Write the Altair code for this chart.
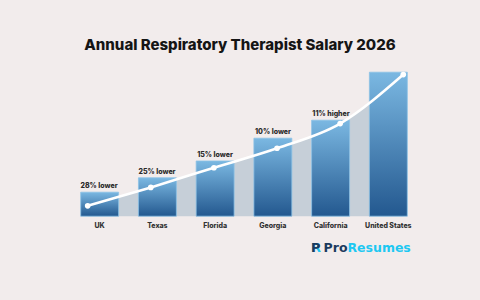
import altair as alt
import pandas as pd

# Regions, bar heights (grid units), curve levels and comparison labels
regions = ["UK", "Texas", "Florida", "Georgia", "California", "United States"]
bar_height = [1.0, 1.6, 2.3, 3.25, 4.0, 6.0]
curve_level = [0.43, 1.2, 2.02, 2.83, 3.86, 5.9]
gap_labels = ["28% lower", "25% lower", "15% lower", "10% lower", "11% higher", ""]
curve_index = [0, 1, 2, 3, 4, 5]

df = pd.DataFrame({
    "region": regions,
    "height": bar_height,
    "curve": curve_level,
    "label": gap_labels,
    "idx": curve_index,
})

FONT = "Inter"
LOGO_FONT = "DejaVu Sans"
BG = "#f2ecec"
NAVY = "#1b3a5e"
CYAN = "#1ec8f2"

y_scale = alt.Scale(domain=[0, 6.8], nice=False)
band = alt.Scale(domain=regions, paddingInner=0.343, paddingOuter=0.185)
curve_x = alt.Scale(domain=[-0.28, 5.233], nice=False, zero=False)

y_axis = alt.Axis(values=[0, 1, 2, 3, 4, 5, 6], labels=False, ticks=False, title=None,
                  domain=True, domainColor="#ddd6d6", domainWidth=1,
                  grid=True, gridColor="#e2dbdb", gridWidth=1)

base = alt.Chart(df)

# shaded band under the trend curve
area = base.mark_area(interpolate="monotone", color="#c6cfd8").encode(
    x=alt.X("idx:Q", scale=curve_x, axis=None),
    y=alt.Y("curve:Q", scale=y_scale, axis=y_axis),
)

bars = base.mark_bar(
    color=alt.Gradient(
        gradient="linear", x1=0, x2=0, y1=0, y2=1,
        stops=[alt.GradientStop(color="#7bb8e2", offset=0),
               alt.GradientStop(color="#23588f", offset=1)],
    ),
    stroke="#8cc1e6", strokeWidth=0.8,
).encode(
    x=alt.X("region:N", scale=band, sort=regions,
            axis=alt.Axis(title=None, ticks=False, domain=False, labelAngle=0,
                          labelFont=FONT, labelFontSize=7, labelFontWeight=800,
                          labelColor="#333333", labelPadding=5)),
    y=alt.Y("height:Q", scale=y_scale, axis=None),
)

line = base.mark_line(interpolate="monotone", color="white", strokeWidth=2.6).encode(
    x=alt.X("idx:Q", scale=curve_x, axis=None),
    y=alt.Y("curve:Q", scale=y_scale, axis=None),
)

points = base.mark_circle(color="white", size=32, opacity=1).encode(
    x=alt.X("idx:Q", scale=curve_x, axis=None),
    y=alt.Y("curve:Q", scale=y_scale, axis=None),
)

labels = base.mark_text(font=FONT, fontSize=7, fontWeight=800, color="#2a2a2a",
                        baseline="bottom", dy=-3).encode(
    x=alt.X("region:N", scale=band, sort=regions, axis=None),
    y=alt.Y("height:Q", scale=y_scale, axis=None),
    text="label:N",
)

# brand mark below the plot
logo_df = pd.DataFrame({"k": [0]})
LOGO_Y = 195.5


def logo_text(txt, color, size, x, align):
    return alt.Chart(logo_df).mark_text(
        text=txt, font=LOGO_FONT, fontSize=size, fontWeight="bold", color=color,
        align=align, baseline="middle",
    ).encode(x=alt.value(x), y=alt.value(LOGO_Y))


logo_r = logo_text("R", CYAN, 13, 241, "left")
logo_p = logo_text("P", NAVY, 13, 241, "left")
logo_pro = logo_text("Pro", NAVY, 12.5, 277.5, "right")
logo_res = logo_text("Resumes", CYAN, 12.5, 277.5, "left")

chart = alt.layer(area, bars, line, points, labels, logo_r, logo_p, logo_pro, logo_res).resolve_scale(
    x="independent"
).properties(
    width=348,
    height=163.2,
    title=alt.TitleParams(
        "Annual Respiratory Therapist Salary 2026",
        font=FONT, fontSize=15, fontWeight=800, color="#151515",
        anchor="middle", dx=-4, offset=0,
    ),
    background=BG,
    autosize=alt.AutoSizeParams(type="none"),
    padding={"left": 70, "top": 53, "right": 62, "bottom": 84},
).configure_view(stroke=None)

chart.save("out.html", embed_options={"renderer": "svg", "actions": False})
